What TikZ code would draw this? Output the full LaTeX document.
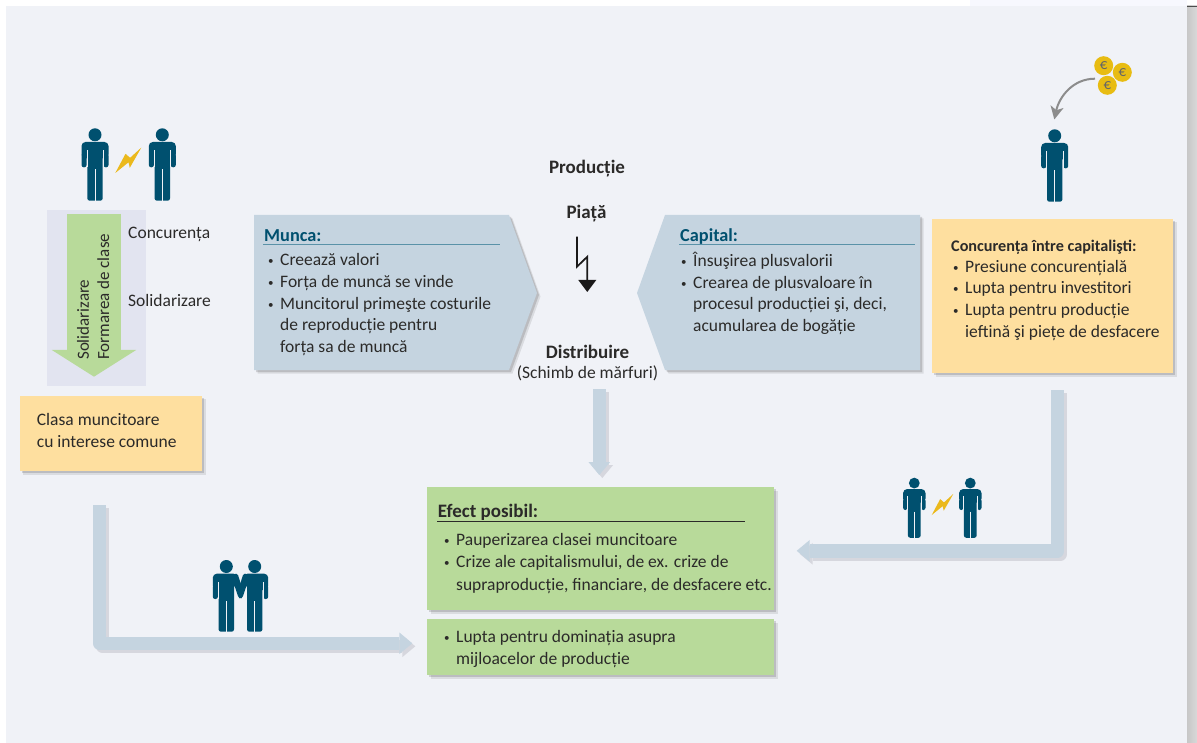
\documentclass[tikz,border=0pt]{standalone}
\usepackage{fontspec}
\setmainfont{Carlito}
\usetikzlibrary{arrows.meta,shadows}
\definecolor{pagebg}{HTML}{F0F2F7}
\definecolor{panelbg}{HTML}{E2E4F0}
\definecolor{steel}{HTML}{C5D4E0}
\definecolor{steelshade}{HTML}{D6D7DE}
\definecolor{sand}{HTML}{FEDF9F}
\definecolor{leaf}{HTML}{B8DA9A}
\definecolor{navy}{HTML}{00506F}
\definecolor{titleline}{HTML}{5A92A8}
\definecolor{ink}{HTML}{2B2A29}
\definecolor{spark}{HTML}{EBB91C}
\definecolor{coin}{HTML}{E8BC12}
\newcommand{\blt}[1]{\makebox[12pt][l]{\raisebox{1pt}{\fontsize{11}{11}\selectfont\textbullet}}#1}
\newcommand{\cont}[1]{\hspace*{12pt}#1}
\begin{document}
\begin{tikzpicture}[x=1pt,y=-1pt]
	\tikzset{softshadow/.style={drop shadow={shadow xshift=3.5pt,shadow yshift=-3.5pt,fill=black,opacity=.09},drop shadow={shadow xshift=2pt,shadow yshift=-2pt,fill=black,opacity=.14}}}
	\tikzset{box/.style={inner sep=0pt, outer sep=0pt, anchor=north west, softshadow}}
	\tikzset{txt/.style={inner sep=0pt, anchor=west, align=left, text=ink, font=\fontsize{17.5}{21.6}\selectfont}}
	\tikzset{head/.style={inner sep=0pt, anchor=center, text=ink, font=\fontsize{19}{22}\selectfont\bfseries}}
	\tikzset{bigarrow/.style={draw=steel, line width=13.4pt, line join=round, -{Triangle[length=13pt,width=21.7pt,line width=0pt]}}}
	\tikzset{arrowshade/.style={bigarrow, draw=steelshade, transform canvas={shift={(3pt,-3pt)}}}}
	\tikzset{person/.pic={
		\fill[navy] (0,6.5) circle (6.5);
		\fill[navy,rounded corners=4] (-13.5,30) -- (-13.5,13.7) -- (13.5,13.7) -- (13.5,30) -- cycle;
		\fill[navy,rounded corners=2.3] (-13.5,25) -- (-13.5,39) -- (-8.4,39) -- (-8.4,25) -- cycle;
		\fill[navy,rounded corners=2.3] (13.5,25) -- (13.5,39) -- (8.4,39) -- (8.4,25) -- cycle;
		\fill[navy,rounded corners=2.3] (-7.7,20) -- (-7.7,72.4) -- (7.7,72.4) -- (7.7,20) -- cycle;
		\draw[pagebg,line width=.7pt] (0,41) -- (0,72.4);
		\draw[pagebg,line width=.35pt] (-8.05,22) -- (-8.05,39) (8.05,22) -- (8.05,39);
	}}
	\tikzset{ally/.pic={
		\fill[navy] (0,6.5) circle (6.5);
		\fill[navy,rounded corners=4] (-13.5,30) -- (-13.5,13.7) -- (11.3,13.7) -- (7.5,30) -- cycle;
		\fill[navy,rounded corners=2.3] (-13.5,25) -- (-13.5,39) -- (-8.4,39) -- (-8.4,25) -- cycle;
		\fill[navy,rounded corners=2.3] (-7.7,20) -- (-7.7,71.7) -- (7.7,71.7) -- (7.7,20) -- cycle;
		\fill[navy,rounded corners=1.5] (8,13.7) -- (11.3,13.7) -- (17,31.7) -- (16,37.7) -- (14,38.9) -- (12,37) -- (7.3,23) -- cycle;
		\draw[pagebg,line width=.7pt] (0,41) -- (0,71.7);
		\draw[pagebg,line width=.35pt] (-8.05,22) -- (-8.05,39);
	}}
	\tikzset{bolt/.pic={
		\fill[spark] (13,-12.7) -- (1.5,7.5) -- (0.2,2) -- (-13,12.7) -- (-2.8,-6.5) -- (1.8,-2.5) -- cycle;
	}}

%% Page
	\fill[white] (0,0) rectangle (1197,743);
	\useasboundingbox (0,0) rectangle (1197,743);
	\fill[pagebg] (6,6) rectangle (1187,743);
	\fill[pagebg!80!blue!12] (970,0) rectangle (1187,6);
	\shade[left color=black!22, right color=black!15] (1187,6) rectangle (1197,743);
	\draw[black!70,line width=.7pt] (1187,6) -- (1197,6);

%% Left column
	\pic (workerA) at (95,128.3) {person};
	\pic (workerB) at (162.3,128.3) {person};
	\pic (sparkA) at (128.3,160.3) {bolt};
	\node[fill=panelbg, inner sep=0pt, anchor=north west, minimum width=99pt, minimum height=175.7pt] (panel) at (47,210) {};
	\coordinate (classtop) at (94,214);
	\coordinate (classtip) at (94,376.7);
	\draw[draw=leaf, line width=54pt, -{Triangle[length=26.7pt,width=84.3pt,line width=0pt]}] (classtop) -- (classtip);
	\node[txt, rotate=90, font=\fontsize{17}{20}\selectfont] (solid) at (83,360) {Solidarizare};
	\node[txt, rotate=90, font=\fontsize{17}{20}\selectfont] (form) at (103.3,360) {Formarea de clase};
	\node[txt] (concur) at (128,234) {Concurența};
	\node[txt] (solidlabel) at (128,300) {Solidarizare};
	\node[box, fill=sand, minimum width=182.3pt, minimum height=75.3pt] (classbox) at (19.7,395.7) {};
	\node[txt] (classtext) at (36.7,430.5) {Clasa muncitoare\\cu interese comune};

%% Centre
	\node[head] (prod) at (587,169) {Producție};
	\node[head] (market) at (586.5,214) {Piață};
	\coordinate (boltstart) at (577,236.7);
	\coordinate (boltend) at (587.3,292);
	\draw[draw=ink!60!black, line width=1.7pt, -{Triangle[length=12pt,width=18pt,line width=0pt]}] (boltstart) -- ++(0,30) -- (587.3,256.7) -- (boltend);
	\node[head] (distrib) at (587.5,351.5) {Distribuire};
	\node[txt, anchor=center] (exchange) at (587.5,373.5) {(Schimb de mărfuri)};

%% Labour and capital
	\fill[steel, softshadow] (254,215) -- (509,215) -- (537,293) -- (509,370) -- (254,370) -- cycle;
	\node[txt, text=navy, font=\fontsize{18.3}{20}\selectfont\bfseries] (labour) at (264,235.5) {Munca:};
	\draw[titleline, line width=1pt] (263,245) -- (500,245);
	\node[txt, anchor=north west] (labourlist) at (268,253.5) {\blt{Creează valori}\\\blt{Forța de muncă se vinde}\\\blt{Muncitorul primeşte costurile}\\\cont{de reproducție pentru}\\\cont{forța sa de muncă}};
	\fill[steel, softshadow] (920,215) -- (665,215) -- (637,293) -- (665,370) -- (920,370) -- cycle;
	\node[txt, text=navy, font=\fontsize{18.3}{20}\selectfont\bfseries] (capital) at (680,236.5) {Capital:};
	\draw[titleline, line width=1pt] (679,245) -- (915,245);
	\node[txt, anchor=north west] (capitallist) at (681,252) {\blt{Însuşirea plusvalorii}\\\blt{Crearea de plusvaloare în}\\\cont{procesul producției şi, deci,}\\\cont{acumularea de bogăție}};

%% Right column
	\node[circle, fill=coin, minimum size=19pt, inner sep=0pt, text=black!60, font=\fontsize{15}{15}\selectfont] (coinA) at (1103.7,65.7) {€};
	\node[circle, fill=coin, minimum size=19pt, inner sep=0pt, text=black!60, font=\fontsize{15}{15}\selectfont] (coinB) at (1122.3,72.3) {€};
	\node[circle, fill=coin, minimum size=19pt, inner sep=0pt, text=black!60, font=\fontsize{15}{15}\selectfont] (coinC) at (1107.3,85.3) {€};
	\coordinate (coinstart) at (1095,78.7);
	\coordinate (coinend) at (1054.3,119.5);
	\draw[draw=black!45, line width=2pt, -{Stealth[length=13pt,width=13pt,inset=3.5pt]}] (coinstart) to[out=180,in=78] (coinend);
	\pic (owner) at (1054.7,129.3) {person};
	\node[box, fill=sand, minimum width=241pt, minimum height=154pt] (rivalbox) at (932.3,219) {};
	\node[txt, font=\fontsize{16.2}{18}\selectfont\bfseries] (rivaltitle) at (951,247.5) {Concurența între capitalişti:};
	\node[txt, anchor=north west] (rivallist) at (953,260) {\blt{Presiune concurențială}\\\blt{Lupta pentru investitori}\\\blt{Lupta pentru producție}\\\cont{ieftină şi piețe de desfacere}};

%% Effects
	\node[box, fill=leaf, minimum width=347pt, minimum height=123pt] (effectbox) at (427,487) {};
	\node[box, fill=leaf, minimum width=347pt, minimum height=56pt] (struggle) at (427,619) {};
	\node[txt, font=\fontsize{19}{20}\selectfont\bfseries] (effect) at (437.7,512) {Efect posibil:};
	\draw[ink, line width=.8pt] (437,521.3) -- (745.3,521.3);
	\node[txt, anchor=north west, font=\fontsize{17.5}{22.5}\selectfont] (effectlist) at (444,533) {\blt{Pauperizarea clasei muncitoare}\\\blt{Crize ale capitalismului, de ex. crize de}\\\cont{supraproducție, financiare, de desfacere etc.}};
	\node[txt, anchor=north west, font=\fontsize{17.5}{22}\selectfont] (strugglelist) at (444,630) {\blt{Lupta pentru dominația asupra}\\\cont{mijloacelor de producție}};

%% Arrows
	\coordinate (downstart) at (599.3,389.3);
	\coordinate (downend) at (599.3,475);
	\draw[arrowshade] (downstart) -- (downend);
	\draw[bigarrow] (downstart) -- (downend);
	\coordinate (rightstart) at (1057.6,390);
	\coordinate (rightend) at (796.7,550.8);
	\draw[arrowshade] (rightstart) |- (rightend);
	\draw[bigarrow] (rightstart) |- (rightend);
	\coordinate (leftstart) at (99.7,505);
	\coordinate (leftend) at (412.3,643.3);
	\draw[arrowshade] (leftstart) |- (leftend);
	\draw[bigarrow] (leftstart) |- (leftend);

%% Small figures
	\pic[scale=.83] (rivalA) at (914.3,477.7) {person};
	\pic[scale=.83] (rivalB) at (970.3,477.7) {person};
	\pic[scale=.83] (sparkB) at (942.5,504.5) {bolt};
	\pic (allyA) at (226.3,560) {ally};
	\pic[xscale=-1] (allyB) at (254.7,560) {ally};
\end{tikzpicture}
\end{document}
